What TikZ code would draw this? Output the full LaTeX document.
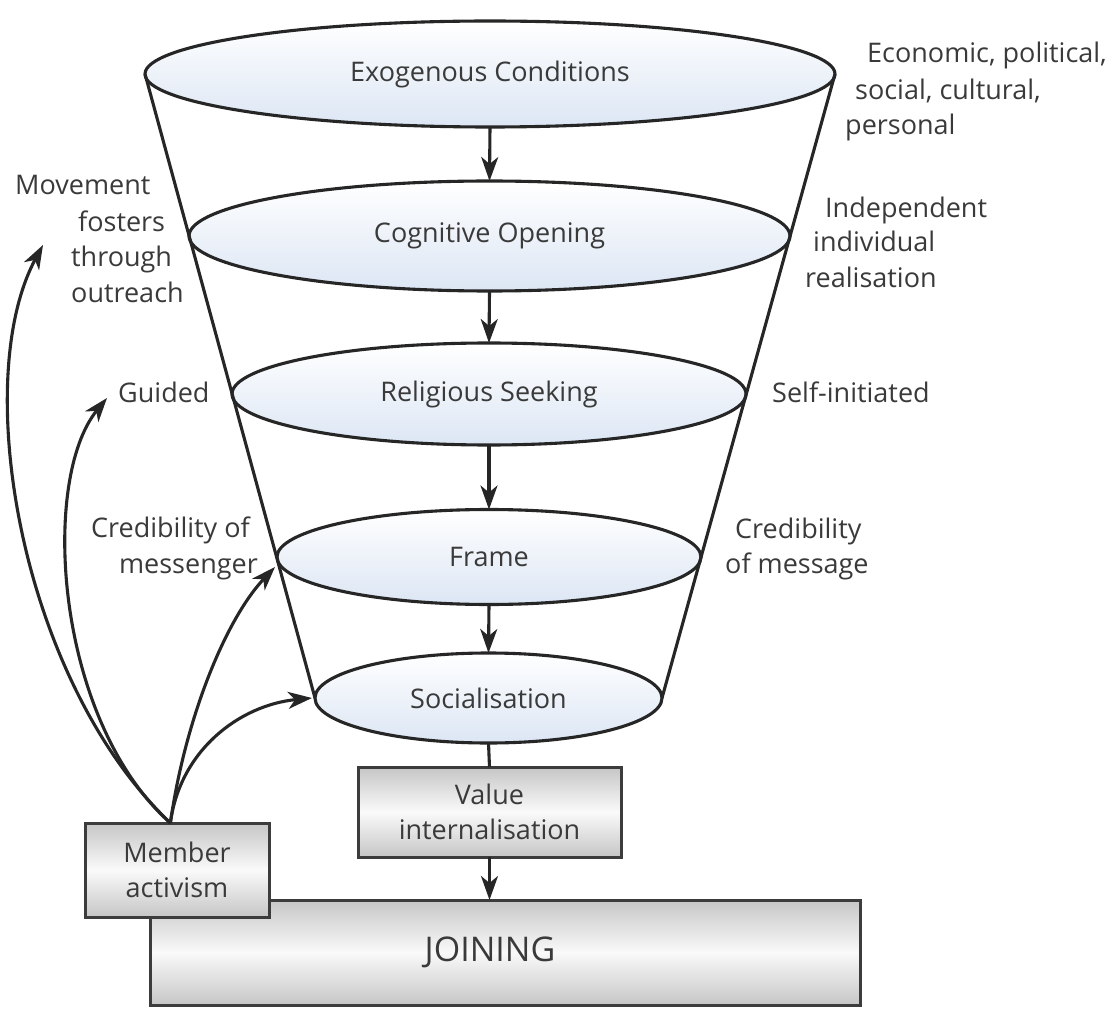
\documentclass[tikz,border=0pt]{standalone}
\usepackage{fontspec}
\setmainfont{Open Sans}
\usetikzlibrary{shapes.geometric,arrows.meta,calc}
\definecolor{ink}{HTML}{262626}
\definecolor{txt}{HTML}{3A3A3A}
\definecolor{ellblue}{RGB}{220,230,244}
\tikzset{
  ln/.style={draw=ink, line width=3.1pt},
  ellnode/.style={ellipse, draw=ink, line width=3.1pt, inner sep=0pt, outer sep=0pt,
    top color=white, bottom color=ellblue, text=txt},
  boxnode/.style={rectangle, draw=ink!90, line width=3pt, inner sep=0pt, outer sep=0pt,
    top color=gray!45, bottom color=gray!45, middle color=gray!4, text=txt, align=center},
  arr/.style={draw=ink, line width=3.1pt, -{Stealth[length=24pt,width=17pt,inset=7pt]}},
  lbl/.style={text=txt, inner sep=0pt, anchor=base west},
  lble/.style={text=txt, inner sep=0pt, anchor=base east}
}
\begin{document}
\begin{tikzpicture}[x=1pt,y=-1pt]
\fontsize{27}{35}\selectfont
\useasboundingbox[fill=white] (0,0) rectangle (1114,1016);

% funnel ellipses
\node[ellnode, minimum width=690pt, minimum height=106pt] (exo) at (490,74) {Exogenous Conditions};
\node[ellnode, minimum width=601pt, minimum height=110pt] (cog) at (489.5,236) {Cognitive Opening};
\node[ellnode, minimum width=514pt, minimum height=102pt] (rel) at (489,394) {Religious Seeking};
\node[ellnode, minimum width=424pt, minimum height=95pt] (frame) at (489,557) {Frame};
\node[ellnode, minimum width=347pt, minimum height=90pt] (soc) at (488.5,698) {Socialisation};

% funnel sides
\draw[ln] (exo.west) -- (soc.west);
\draw[ln] (exo.east) -- (soc.east);

% boxes
\node[boxnode, minimum width=263pt, minimum height=90pt] (val) at (489.5,812) {Value\\internalisation};
\node[boxnode, minimum width=710pt, minimum height=105pt, font=\fontsize{34}{40}\selectfont] (join) at (505,952.5) {\hspace*{-30pt}JOINING};
\node[boxnode, minimum width=184pt, minimum height=94pt] (mem) at (177,870) {Member\\activism};

% main flow
\draw[arr] (exo.south) -- (cog.north);
\draw[arr] (cog.south) -- (rel.north);
\draw[arr] (rel.south) -- (frame.north);
\draw[arr] (frame.south) -- (soc.north);
\draw[ln] (soc.south) -- (val.north);
\draw[arr] (val.south) -- (val.south |- join.north);

% member activism influences
\coordinate (src) at ($(mem.north west)!0.464!(mem.north east)$);
\coordinate (movtip) at (43,245);
\coordinate (guidtip) at (107,398);
\draw[arr] (src) .. controls (20,680) and (-30,380) .. (movtip);
\draw[arr] (src) .. controls (55,720) and (40,480) .. (guidtip);
\draw[arr] (src) .. controls (185,720) and (225,620) .. ($(frame.west)+(-2,10)$);
\draw[arr] (src) .. controls (180,750) and (240,705) .. ($(soc.west)+(-3,0)$);

% right labels
\node[lbl] (econ1) at (867,63) {Economic, political,};
\node[lbl] (econ2) at (855,100) {social, cultural,};
\node[lbl] (econ3) at (845,135) {personal};
\node[lbl] (ind1) at (825,218) {Independent};
\node[lbl] (ind2) at (813,252) {individual};
\node[lbl] (ind3) at (805,288) {realisation};
\node[lbl] (self) at (772,402) {Self-initiated};
\node[lbl] (cmsg1) at (735,538) {Credibility};
\node[lbl] (cmsg2) at (725,573) {of message};

% left labels
\node[lbl] (mov1) at (15,195) {Movement};
\node[lbl] (mov2) at (78,232) {fosters};
\node[lbl] (mov3) at (71,267) {through};
\node[lbl] (mov4) at (71,303) {outreach};
\node[lbl] (guided) at (118,402) {Guided};
\node[lble] (cme1) at (250,537) {Credibility of};
\node[lble] (cme2) at (258,573) {messenger};
\end{tikzpicture}
\end{document}
